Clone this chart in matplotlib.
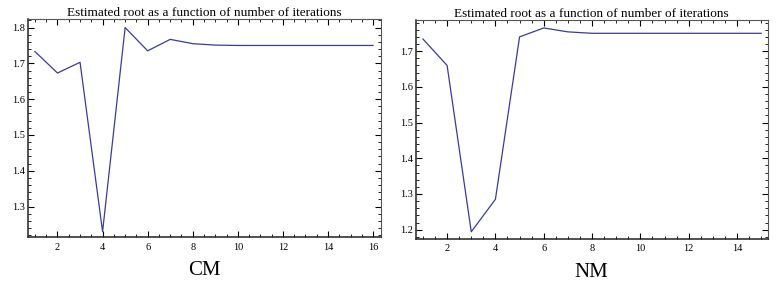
import matplotlib.pyplot as plt
from matplotlib.ticker import MultipleLocator

plt.rcParams.update({"font.family": "serif", "font.serif": ["Liberation Serif", "DejaVu Serif"]})

# estimated root per iteration
cm_iter = list(range(1, 17))
cm_root = [1.733, 1.673, 1.703, 1.230, 1.800, 1.735, 1.767, 1.755, 1.751, 1.750,
           1.750, 1.750, 1.750, 1.750, 1.750, 1.750]
nm_iter = list(range(1, 16))
nm_root = [1.734, 1.660, 1.194, 1.285, 1.740, 1.765, 1.754, 1.750, 1.750, 1.750,
           1.750, 1.750, 1.750, 1.750, 1.750]

title = "Estimated root as a function of number of iterations"
line_c = "#3a3aa0"

fig = plt.figure(figsize=(7.77, 2.83), dpi=100)
ax1 = fig.add_axes([0.036, 0.1625, 0.454, 0.7705])
ax2 = fig.add_axes([0.535, 0.157, 0.453, 0.772])

panels = [
    (ax1, cm_iter, cm_root, (0.69, 16.34), (1.215, 1.824), "CM"),
    (ax2, nm_iter, nm_root, (0.70, 15.27), (1.175, 1.787), "NM"),
]
for ax, x, y, xl, yl, lab in panels:
    ax.plot(x, y, color=line_c, lw=0.9)
    ax.set_xlim(*xl); ax.set_ylim(*yl)
    ax.xaxis.set_major_locator(MultipleLocator(2))
    ax.xaxis.set_minor_locator(MultipleLocator(0.5))
    ax.yaxis.set_major_locator(MultipleLocator(0.1))
    ax.yaxis.set_minor_locator(MultipleLocator(0.02))
    ax.tick_params(which="both", direction="in", top=True, right=True, labelsize=7.5, pad=2)
    ax.tick_params(which="major", length=4, width=0.8)
    ax.tick_params(which="minor", length=2, width=0.6)
    ax.tick_params(axis="x", pad=4)
    for s in ax.spines.values():
        s.set_linewidth(0.8); s.set_color("#555")
    ax.spines["left"].set_color("#222"); ax.spines["bottom"].set_color("#222")
    ax.spines["left"].set_linewidth(1.1); ax.spines["bottom"].set_linewidth(1.1)
    ax.set_title(title, fontsize=9.5, pad=2)
    ax.text(0.5, -0.155, lab, transform=ax.transAxes, ha="center", va="center", fontsize=15)

fig.savefig("out.png", dpi=100)
